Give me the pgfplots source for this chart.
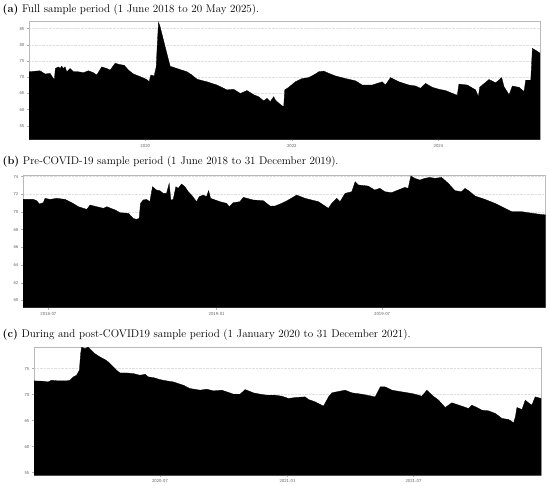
\documentclass[border=0pt]{standalone}
\usepackage{pgfplots}
\pgfplotsset{compat=1.18}
\pgfplotsset{
  refstyle/.style={
    scale only axis,
    anchor=south west,
    axis line style={gray!55, line width=0.8bp},
    tick align=outside,
    tick pos=left,
    major tick length=1.8bp,
    every tick/.style={gray!60, line width=0.4bp},
    ymajorgrids,
    grid style={gray!25, densely dotted, line width=0.4bp},
    /pgf/number format/assume math mode=true,
    tick label style={font=\sffamily\fontsize{4.5}{5}\selectfont, text=gray!75!black},
    yticklabel style={xshift=0.6bp},
    xticklabel style={yshift=0.8bp},
    clip=true,
  }
}
\newcommand{\ttl}[2]{\fontsize{11.1}{13}\selectfont\textbf{(#1)} #2}
\begin{document}
\begin{tikzpicture}
\useasboundingbox (0,0) rectangle (550bp,-486bp);
\node[anchor=west, inner sep=0pt] at (2.5bp,-10bp) {\ttl{a}{Full sample period (1 June 2018 to 20 May 2025).}};
\node[anchor=west, inner sep=0pt] at (2.5bp,-162bp) {\ttl{b}{Pre-COVID-19 sample period (1 June 2018 to 31 December 2019).}};
\node[anchor=west, inner sep=0pt] at (2.5bp,-335bp) {\ttl{c}{During and post-COVID19 sample period (1 January 2020 to 31 December 2021).}};

% ---------------- (a)
\begin{axis}[refstyle, at={(29bp,-139.5bp)}, width=511bp, height=118bp,
  xmin=2018.414, xmax=2025.385, ymin=50.8, ymax=87.2,
  xtick={2020,2022,2024}, xticklabels={2020,2022,2024},
  ytick={55,60,65,70,75,80,85}]
\addplot[fill=black, draw=black, line width=0.3bp] coordinates {
(2018.414,71.7)(2018.564,72.0)(2018.633,71.0)(2018.701,71.2)(2018.746,69.6)(2018.760,69.3)
(2018.774,72.7)(2018.815,73.2)(2018.838,72.7)(2018.860,73.4)(2018.883,72.7)(2018.906,73.2)
(2018.929,71.7)(2018.974,72.7)(2019.020,71.7)(2019.088,71.7)(2019.156,71.4)(2019.225,72.0)
(2019.293,71.4)(2019.338,70.7)(2019.407,73.2)(2019.475,72.7)(2019.521,72.2)(2019.589,74.3)
(2019.657,73.9)(2019.712,73.7)(2019.771,72.2)(2019.839,71.0)(2019.930,70.2)(2020.021,69.3)
(2020.053,68.6)(2020.076,70.7)(2020.122,70.4)(2020.149,73.2)(2020.167,81.4)(2020.181,87.0)
(2020.204,85.5)(2020.249,81.4)(2020.295,77.3)(2020.340,73.4)(2020.431,72.7)(2020.568,71.7)
(2020.636,70.7)(2020.705,69.4)(2020.841,68.6)(2020.978,67.6)(2021.114,66.1)(2021.205,66.3)
(2021.297,65.0)(2021.388,65.9)(2021.479,64.6)(2021.547,64.0)(2021.615,62.7)(2021.661,63.5)
(2021.706,62.5)(2021.752,64.0)(2021.775,63.0)(2021.821,62.0)(2021.866,61.2)(2021.889,61.0)
(2021.903,66.1)(2021.957,66.9)(2022.048,68.6)(2022.139,69.6)(2022.230,69.9)(2022.321,71.0)
(2022.367,71.7)(2022.435,71.9)(2022.504,71.2)(2022.595,70.4)(2022.731,69.6)(2022.868,68.9)
(2022.959,67.6)(2023.096,67.6)(2023.232,68.6)(2023.278,67.6)(2023.346,69.9)(2023.460,68.6)
(2023.597,67.6)(2023.688,67.3)(2023.756,66.6)(2023.824,68.1)(2023.915,66.9)(2024.006,66.3)
(2024.097,65.9)(2024.234,64.6)(2024.257,64.5)(2024.279,67.9)(2024.393,67.6)(2024.507,66.1)
(2024.544,64.0)(2024.562,66.9)(2024.598,67.6)(2024.689,69.3)(2024.781,68.3)(2024.863,69.9)
(2024.894,67.1)(2024.963,64.6)(2025.008,67.3)(2025.099,66.9)(2025.167,65.6)(2025.190,69.1)
(2025.259,69.1)(2025.281,78.9)(2025.327,78.3)(2025.395,77.3)
} \closedcycle;
\end{axis}

% ---------------- (b)
\begin{axis}[refstyle, at={(23bp,-307.7bp)}, width=522.7bp, height=132.7bp,
  xmin=2018.420, xmax=2019.986, ymin=59.17, ymax=74.19,
  xtick={2018.496,2019.0,2019.496}, xticklabels={2018-07,2019-01,2019-07},
  ytick={60,62,64,66,68,70,72,74}]
\addplot[fill=black, draw=black, line width=0.3bp] coordinates {
(2018.414,71.43)(2018.451,71.43)(2018.461,71.28)(2018.469,70.91)(2018.481,71.06)(2018.486,71.55)
(2018.501,71.43)(2018.521,71.55)(2018.546,71.43)(2018.566,71.06)(2018.586,70.60)(2018.611,70.30)
(2018.621,70.79)(2018.641,70.60)(2018.661,70.42)(2018.671,70.60)(2018.696,70.23)(2018.711,69.92)
(2018.736,69.85)(2018.750,69.28)(2018.760,69.17)(2018.768,69.28)(2018.772,70.98)(2018.780,71.36)
(2018.790,71.43)(2018.800,71.17)(2018.808,72.87)(2018.820,72.49)(2018.830,72.42)(2018.840,72.11)
(2018.850,72.11)(2018.858,73.25)(2018.863,71.36)(2018.870,71.43)(2018.878,72.87)(2018.885,72.68)
(2018.895,73.17)(2018.905,72.87)(2018.915,72.30)(2018.925,71.92)(2018.940,71.17)(2018.948,71.74)
(2018.960,71.92)(2018.970,71.74)(2018.976,72.42)(2018.982,71.55)(2019.010,71.17)(2019.030,70.98)
(2019.038,70.60)(2019.050,71.06)(2019.070,71.17)(2019.080,71.66)(2019.110,71.36)(2019.140,71.28)
(2019.160,70.68)(2019.175,70.68)(2019.195,70.98)(2019.215,71.36)(2019.240,71.92)(2019.265,71.55)
(2019.305,71.17)(2019.335,70.42)(2019.345,70.98)(2019.360,71.55)(2019.370,71.17)(2019.385,72.11)
(2019.405,72.30)(2019.415,73.43)(2019.425,73.06)(2019.454,72.94)(2019.474,72.49)(2019.489,72.68)
(2019.504,72.30)(2019.524,72.19)(2019.544,72.49)(2019.564,72.79)(2019.574,72.68)(2019.582,74.08)
(2019.594,73.81)(2019.609,73.62)(2019.624,73.81)(2019.639,73.92)(2019.654,73.81)(2019.674,73.92)
(2019.694,73.25)(2019.714,72.42)(2019.734,72.30)(2019.744,72.68)(2019.759,72.30)(2019.774,71.81)
(2019.804,71.43)(2019.834,70.98)(2019.864,70.42)(2019.884,70.04)(2019.914,70.04)(2019.934,69.92)
(2019.963,69.77)(2019.990,69.66)
} \closedcycle;
\end{axis}

% ---------------- (c)
\begin{axis}[refstyle, at={(34bp,-475.3bp)}, width=507bp, height=128.3bp,
  xmin=2019.999, xmax=2021.999, ymin=54.49, ymax=79.15,
  xtick={2020.496,2020.999,2021.496}, xticklabels={2020-07,2021-01,2021-07},
  ytick={55,60,65,70,75}]
\addplot[fill=black, draw=black, line width=0.3bp] coordinates {
(2019.999,72.64)(2020.035,72.57)(2020.055,72.44)(2020.068,72.76)(2020.095,72.64)(2020.128,72.64)
(2020.141,72.76)(2020.154,73.40)(2020.167,73.72)(2020.178,74.68)(2020.183,77.88)(2020.187,79.15)
(2020.200,78.83)(2020.213,79.15)(2020.226,78.51)(2020.239,77.88)(2020.259,77.24)(2020.279,76.73)
(2020.292,76.28)(2020.312,75.32)(2020.325,74.68)(2020.338,74.17)(2020.364,74.17)(2020.391,74.04)
(2020.417,73.72)(2020.437,73.91)(2020.450,73.40)(2020.470,73.27)(2020.496,72.89)(2020.522,72.64)
(2020.549,72.44)(2020.568,72.12)(2020.588,71.81)(2020.614,71.17)(2020.654,70.85)(2020.680,71.04)
(2020.707,70.72)(2020.739,70.85)(2020.759,70.53)(2020.786,70.08)(2020.812,70.08)(2020.832,70.97)
(2020.845,70.72)(2020.864,70.34)(2020.891,70.08)(2020.917,69.89)(2020.950,69.89)(2020.976,69.70)
(2021.003,69.25)(2021.029,69.44)(2021.068,69.57)(2021.082,69.06)(2021.108,68.61)(2021.141,67.78)
(2021.161,69.57)(2021.174,70.34)(2021.193,70.53)(2021.226,70.85)(2021.253,70.34)(2021.292,70.08)
(2021.345,69.57)(2021.365,71.49)(2021.384,71.49)(2021.411,70.85)(2021.450,70.53)(2021.490,70.21)
(2021.516,69.89)(2021.529,69.70)(2021.549,70.85)(2021.569,69.89)(2021.595,68.93)(2021.621,67.52)
(2021.647,68.42)(2021.687,67.78)(2021.713,67.33)(2021.726,67.97)(2021.746,67.52)(2021.766,67.01)
(2021.792,66.88)(2021.819,66.37)(2021.845,65.42)(2021.871,65.22)(2021.891,64.58)(2021.898,65.73)
(2021.904,67.52)(2021.924,67.14)(2021.937,68.93)(2021.950,68.42)(2021.963,67.97)(2021.976,69.57)
(2022.000,69.25)
} \closedcycle;
\end{axis}
\end{tikzpicture}
\end{document}
